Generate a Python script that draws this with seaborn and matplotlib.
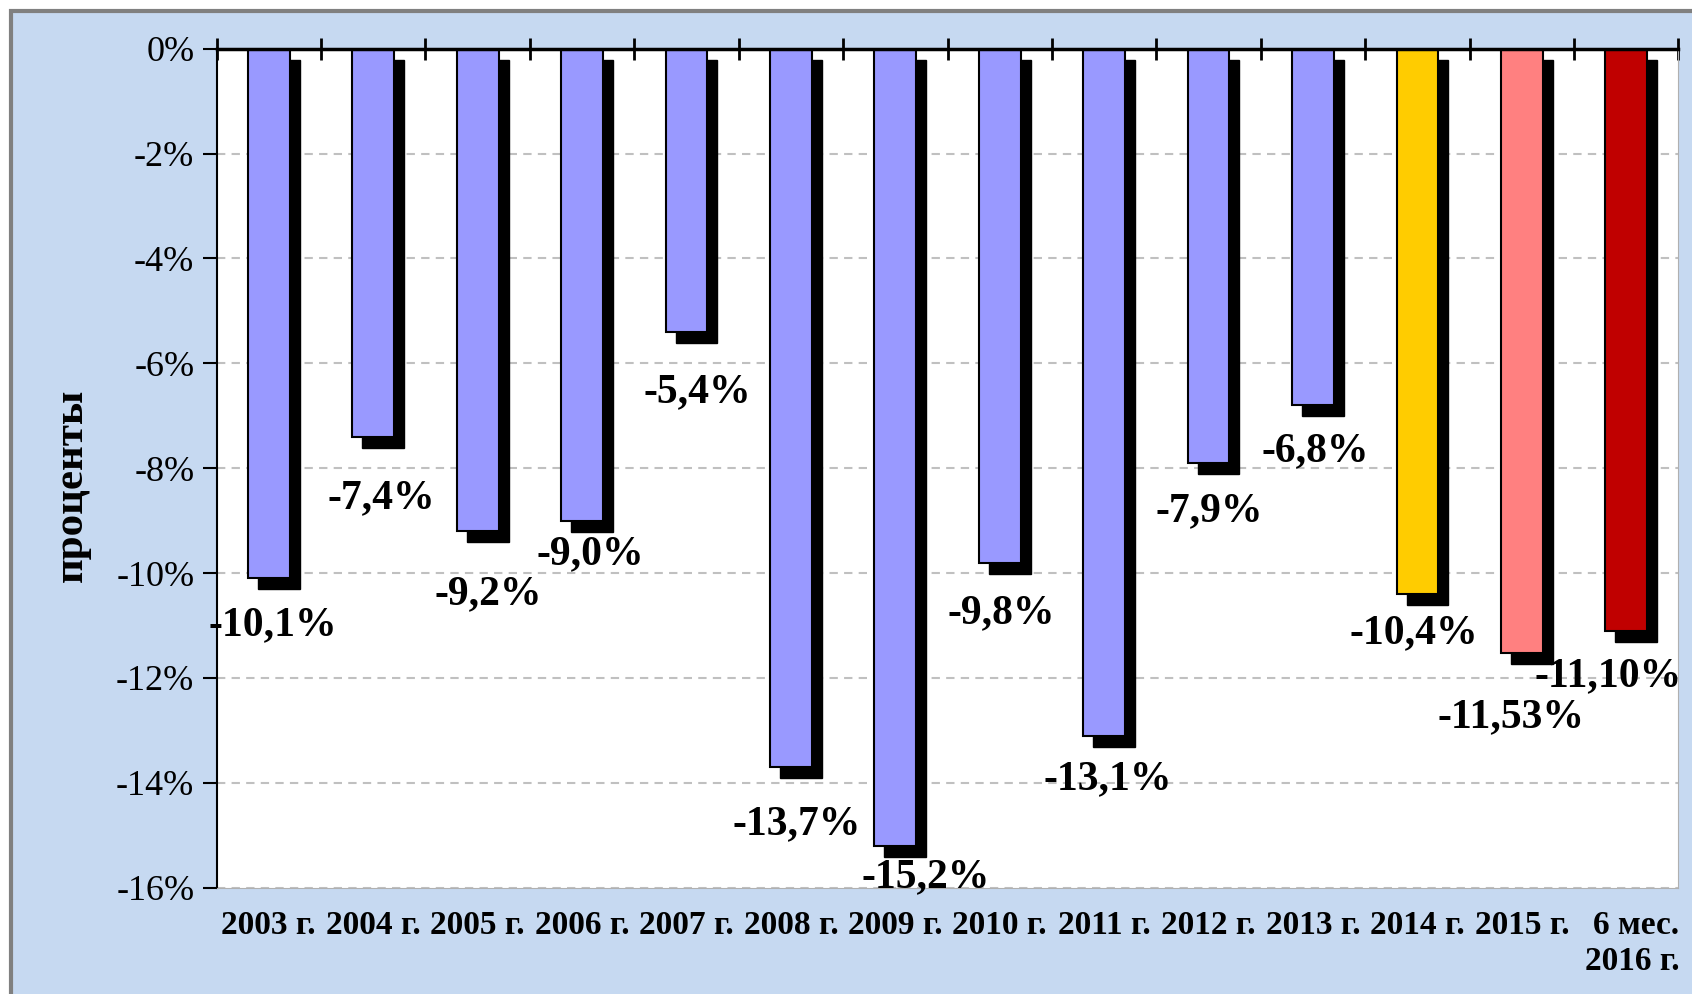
import numpy as np
import pandas as pd
import seaborn as sns
import matplotlib
matplotlib.use('Agg')
import matplotlib.pyplot as plt
import matplotlib.transforms as mtransforms
from matplotlib.patches import Rectangle

# данные
years = ['2003 г.', '2004 г.', '2005 г.', '2006 г.', '2007 г.', '2008 г.', '2009 г.',
         '2010 г.', '2011 г.', '2012 г.', '2013 г.', '2014 г.', '2015 г.', '6 мес.\n2016 г.']
values = [-10.1, -7.4, -9.2, -9.0, -5.4, -13.7, -15.2, -9.8, -13.1, -7.9, -6.8, -10.4, -11.53, -11.10]
value_texts = ['-10,1%', '-7,4%', '-9,2%', '-9,0%', '-5,4%', '-13,7%', '-15,2%',
               '-9,8%', '-13,1%', '-7,9%', '-6,8%', '-10,4%', '-11,53%', '-11,10%']
bar_colors = ['#9999FF'] * 11 + ['#FFCC00', '#FF8080', '#C00000']

# положение подписей (вручную, как в исходном Excel)
lab_dx = [0.04, 0.08, 0.10, 0.08, 0.10, 0.06, 0.29, 0.01, 0.03, 0.01, 0.02, -0.03, -0.10, -0.17]
lab_y = [-11.0, -8.58, -10.41, -9.65, -6.56, -14.79, -15.81, -10.76, -13.94, -8.82, -7.67, -11.15, -12.75, -11.97]

df = pd.DataFrame({'year': years, 'value': values})

plt.rcParams['font.family'] = ['Liberation Serif', 'DejaVu Serif']

fig = plt.figure(figsize=(16.92, 9.94), dpi=100, facecolor='white')
# фон слайда с рамкой
fig.patches.append(Rectangle((0.0065, -0.05), 1.1, 0.989 + 0.05, transform=fig.transFigure,
                             facecolor='#C6D9F1', edgecolor='#808080', lw=3, zorder=-10))

ax = fig.add_axes([0.128, 0.107, 0.864, 0.844])
ax.set_facecolor('white')

# тень
sns.barplot(data=df, x='year', y='value', color='black', width=0.4, ax=ax,
            saturation=1, edgecolor='black', linewidth=1)
shift = mtransforms.ScaledTranslation(0.1, -0.11, fig.dpi_scale_trans)
for p in ax.patches:
    p.set_transform(ax.transData + shift)

sns.barplot(data=df, x='year', y='value', hue='year', palette=bar_colors, width=0.4,
            ax=ax, legend=False, saturation=1, edgecolor='black', linewidth=1.5)

for i, t in enumerate(value_texts):
    ax.text(i + lab_dx[i], lab_y[i], t, ha='center', va='center', fontsize=30,
            fontweight='bold', zorder=10, clip_on=False)

ax.set_xlim(-0.5, 13.5)
ax.set_ylim(-16, 0)
yt = np.arange(-16, 1, 2)
ax.set_yticks(yt)
ax.set_yticklabels([f'{v}%' for v in yt], fontsize=26)
ax.tick_params(axis='y', direction='out', length=10, width=1.5, pad=6)
ax.tick_params(axis='x', which='major', length=0, pad=16, labelsize=24)
xlabs = ax.get_xticklabels()
for lab in xlabs:
    lab.set_fontweight('bold')
    lab.set_multialignment('right')
xlabs[-1].set_transform(xlabs[-1].get_transform() +
                        mtransforms.ScaledTranslation(0.06, 0, fig.dpi_scale_trans))
ax.set_xticks(np.arange(-0.5, 14, 1), minor=True)
ax.tick_params(axis='x', which='minor', top=True, bottom=False, direction='inout',
               length=16, width=2)

ax.yaxis.grid(True, linestyle=(0, (4, 3)), color='#c0c0c0', lw=1.5)
ax.set_axisbelow(True)

ax.spines['top'].set_color('black')
ax.spines['top'].set_linewidth(2.5)
ax.spines['top'].set_zorder(5)
ax.spines['left'].set_color('black')
ax.spines['left'].set_linewidth(1.5)
ax.spines['bottom'].set_color('#b0b0b0')
ax.spines['right'].set_color('#b0b0b0')

ax.set_xlabel('')
ax.set_ylabel('проценты', fontsize=31, fontweight='bold')
ax.yaxis.set_label_coords(-0.086, 0.479)

fig.savefig('out.png', dpi=100, facecolor='white')
